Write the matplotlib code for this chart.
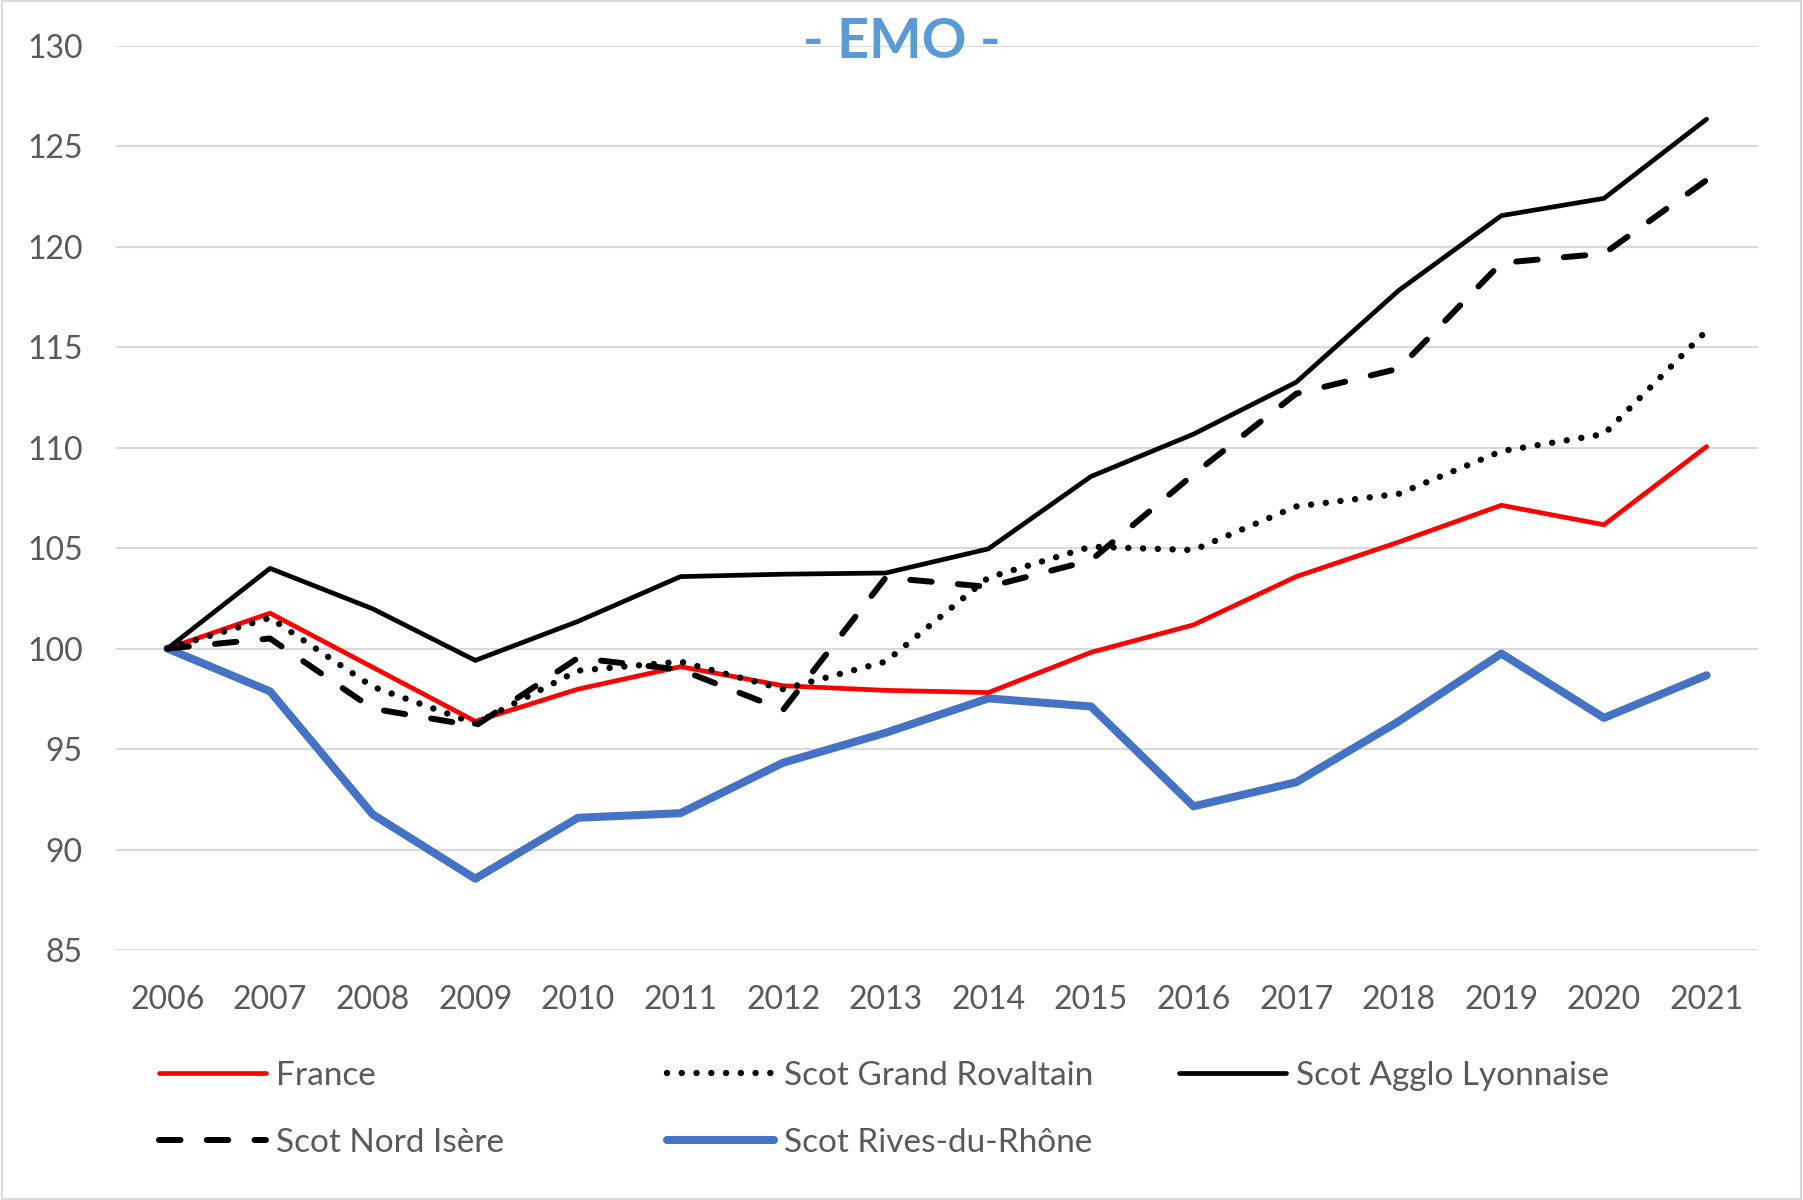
import matplotlib
matplotlib.use("Agg")
import matplotlib.pyplot as plt
from matplotlib.patches import Rectangle

years = [str(y) for y in range(2006, 2022)]
france = [100, 101.76, 99.07, 96.38, 97.98, 99.1, 98.15, 97.92, 97.81, 99.81,
          101.18, 103.58, 105.3, 107.13, 106.16, 110.05]
rovaltain = [100, 101.53, 98.1, 96.27, 98.9, 99.35, 97.98, 99.35, 103.53, 105.07,
             104.9, 107.07, 107.7, 109.82, 110.67, 115.82]
agglo = [100, 103.99, 101.98, 99.41, 101.35, 103.58, 103.7, 103.76, 104.96, 108.56,
         110.67, 113.25, 117.82, 121.54, 122.4, 126.34]
nord_isere = [100, 100.5, 97.01, 96.15, 99.53, 98.95, 96.95, 103.53, 103.07, 104.39,
              108.67, 112.68, 113.93, 119.19, 119.65, 123.31]
rives = [100, 97.87, 91.75, 88.55, 91.58, 91.81, 94.32, 95.81, 97.52, 97.12,
         92.15, 93.35, 96.38, 99.75, 96.55, 98.67]
yticks = [85, 90, 95, 100, 105, 110, 115, 120, 125, 130]

plt.rcParams['font.family'] = ['Lato', 'DejaVu Sans']

fig = plt.figure(figsize=(18.03, 12.0), dpi=100)
ax = fig.add_axes([0.0644, 0.2083, 0.975 - 0.0644, 0.962 - 0.2083])

x = list(range(len(years)))
l_fr, = ax.plot(x, france, color='#FF0000', lw=3.4, label='France',
                solid_capstyle='round', solid_joinstyle='round', zorder=3)
l_ro, = ax.plot(x, rovaltain, color='black', lw=4.6, linestyle=(0, (0.01, 2.3)),
                dash_capstyle='round', label='Scot Grand Rovaltain', zorder=4)
l_ag, = ax.plot(x, agglo, color='black', lw=3.4, label='Scot Agglo Lyonnaise',
                solid_capstyle='round', solid_joinstyle='round', zorder=3)
l_ni, = ax.plot(x, nord_isere, color='black', lw=4.3, linestyle=(0, (3.6, 4.4)),
                dash_capstyle='round', label='Scot Nord Isère', zorder=4)
l_ri, = ax.plot(x, rives, color='#4472C4', lw=5.8, label='Scot Rives-du-Rhône',
                solid_capstyle='round', solid_joinstyle='round', zorder=2)

ax.set_xlim(-0.5, len(years) - 0.5)
ax.set_ylim(85, 130)
ax.set_xticks(x)
ax.set_xticklabels(years)
ax.set_yticks(yticks)
ax.grid(axis='y', color='#D9D9D9', lw=1.5)
ax.set_axisbelow(True)
for s in ax.spines.values():
    s.set_visible(False)
ax.tick_params(axis='both', length=0, labelsize=23, labelcolor='#595959')
ax.tick_params(axis='x', pad=25)
ax.tick_params(axis='y', pad=24)

fig.text(0.5, 0.965, '- EMO -', ha='center', va='center', fontsize=40,
         fontweight='bold', color='#5B9BD5')

common = dict(frameon=False, fontsize=24, handlelength=3.2, handletextpad=0.3,
              borderpad=0, borderaxespad=0, labelspacing=1.1, labelcolor='#595959',
              loc='upper left')
top = 1 - 1061 / 1200
fig.legend(handles=[l_fr, l_ni], bbox_to_anchor=(159 / 1803, top), **common)
fig.legend(handles=[l_ro, l_ri], bbox_to_anchor=(667 / 1803, top), **common)
fig.legend(handles=[l_ag], bbox_to_anchor=(1179 / 1803, top), **common)

fig.patches.append(Rectangle((0.001, 0.001), 0.998, 0.998, transform=fig.transFigure,
                             fill=False, edgecolor='#D9D9D9', lw=1.5))

fig.savefig('out.png', dpi=100)
